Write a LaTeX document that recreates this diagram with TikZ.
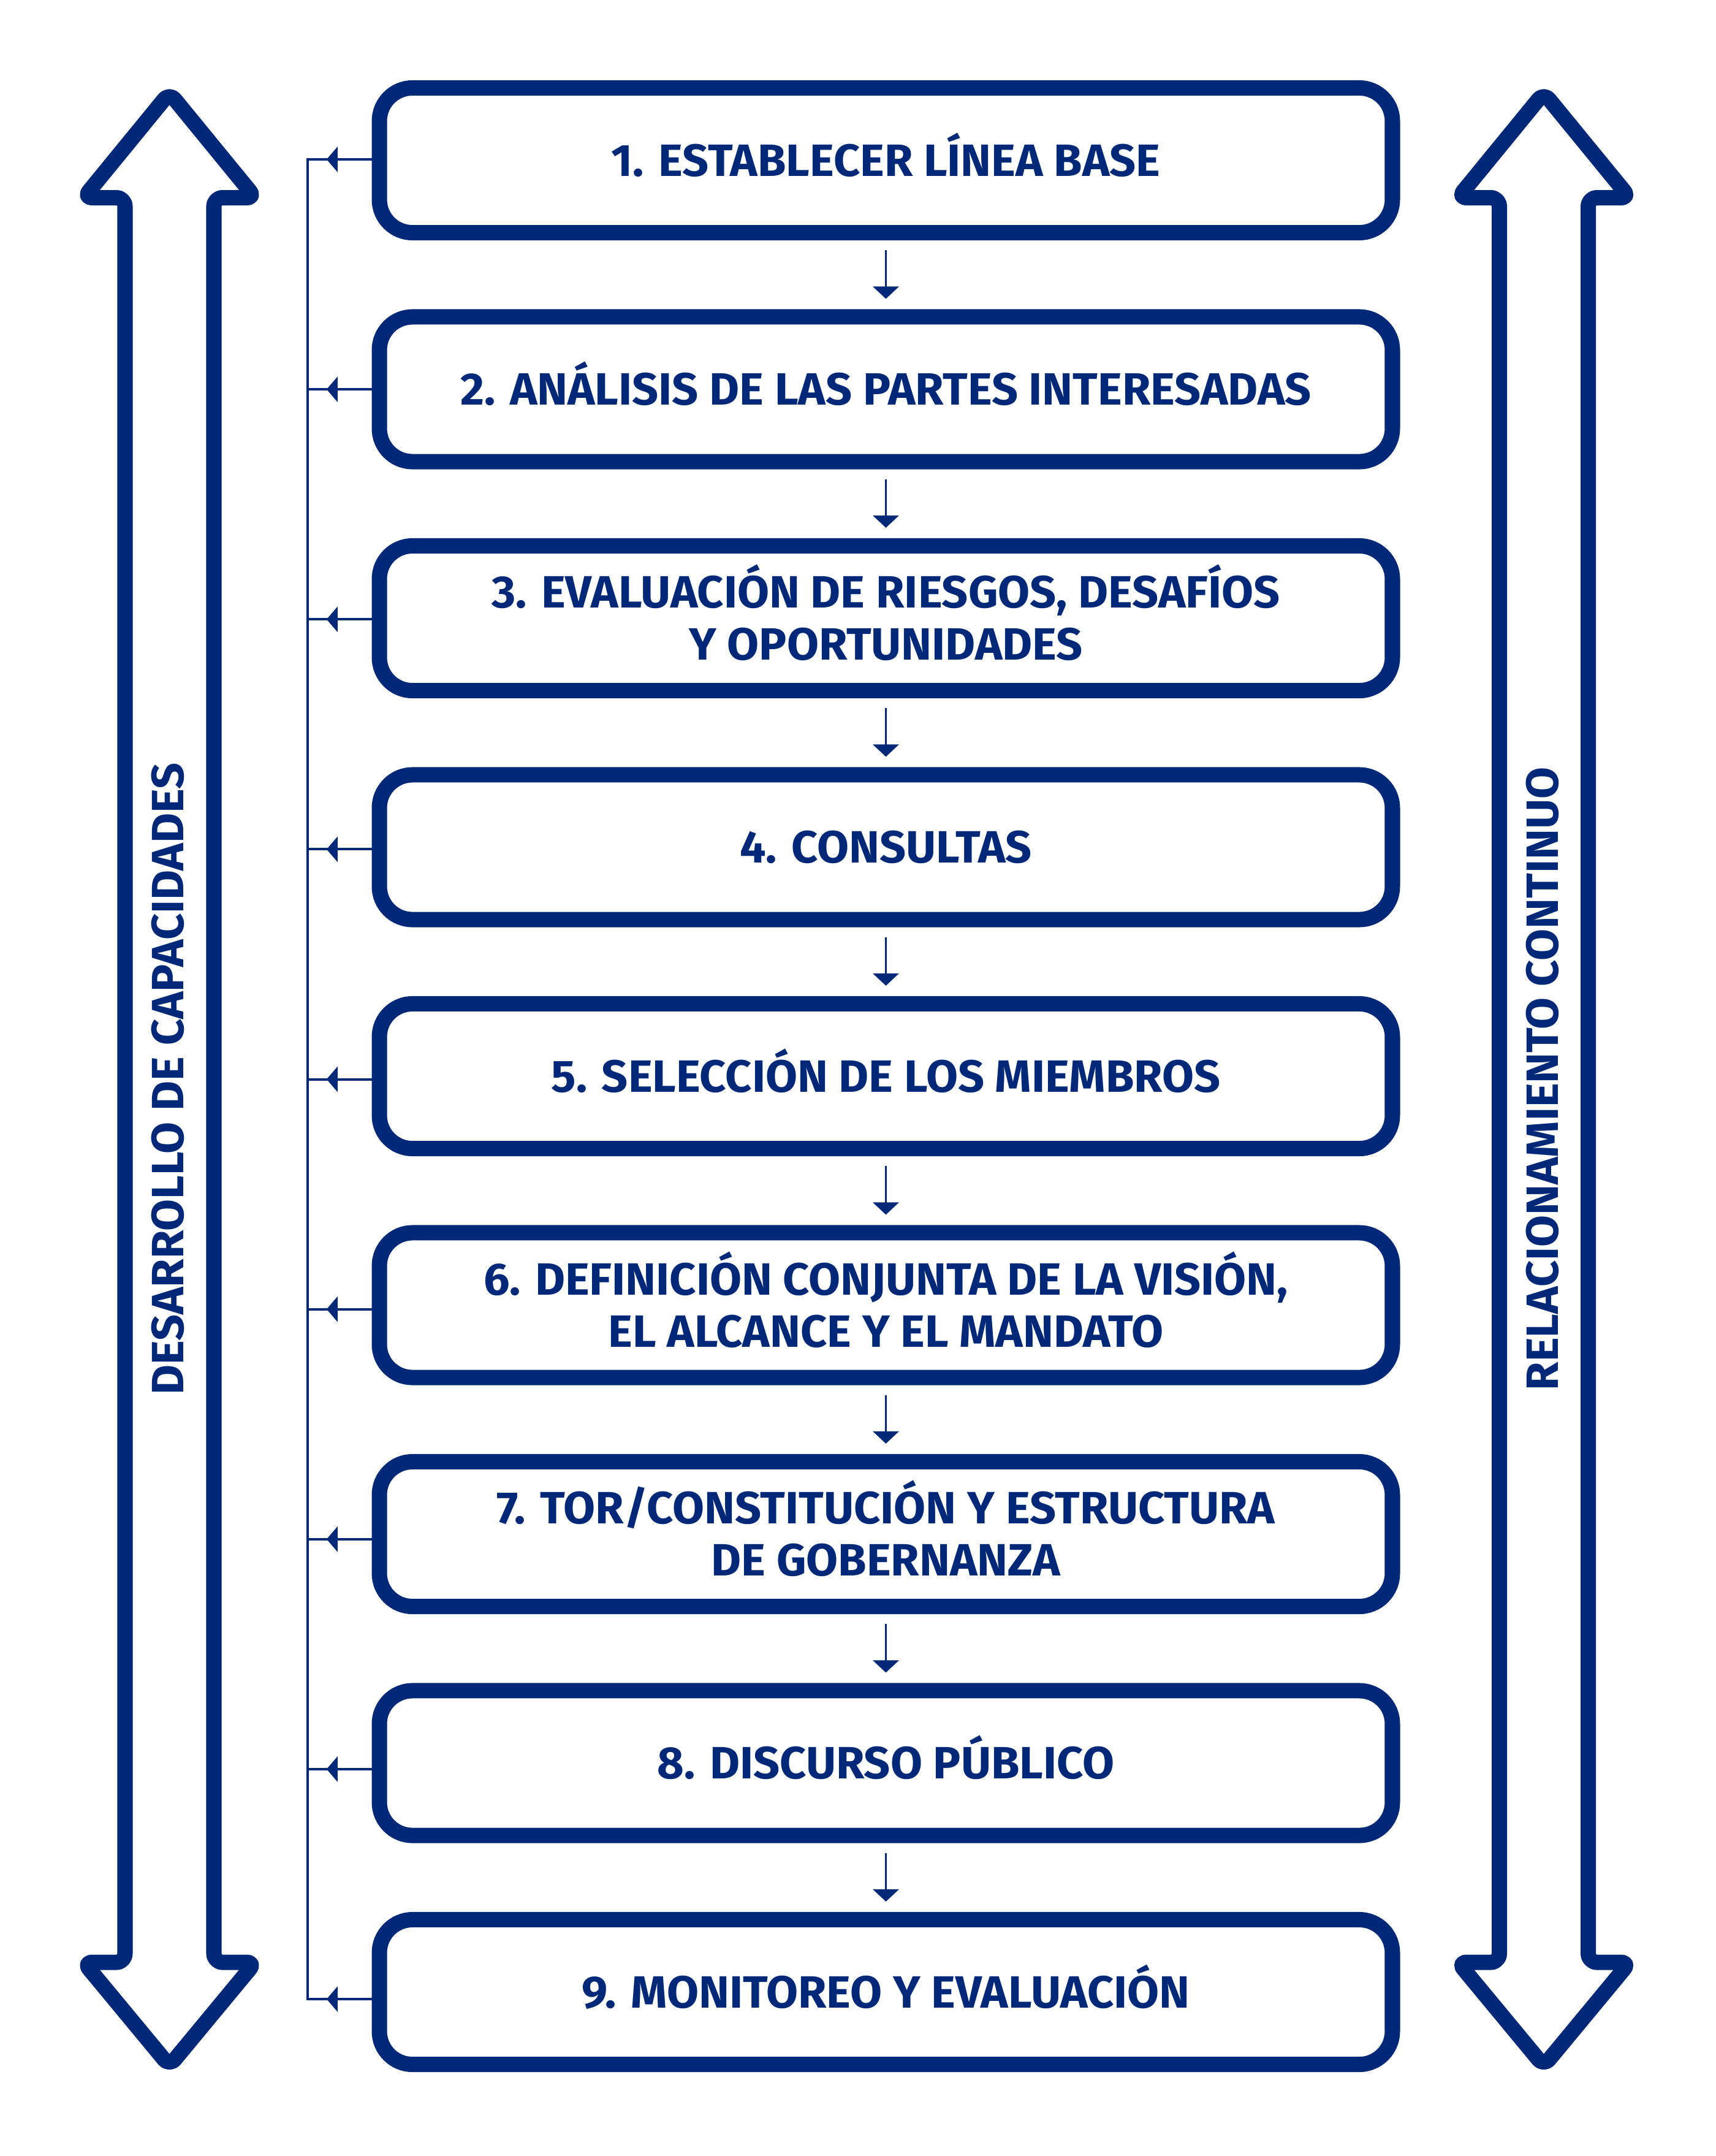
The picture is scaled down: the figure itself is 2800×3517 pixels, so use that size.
\documentclass[tikz,border=0pt]{standalone}
\usepackage{fontspec}
\usetikzlibrary{arrows.meta,decorations.markings,calc}
\newfontfamily\dinf{Fira Sans}[FakeStretch=1.02]
\definecolor{navy}{RGB}{0,40,120}
\begin{document}
\begin{tikzpicture}[x=0.01cm,y=-0.01cm,
 stepbox/.style={draw=navy, line width=0.25cm, rounded corners=0.54cm, minimum width=16.52cm, minimum height=2.36cm, inner sep=0pt, outer sep=0pt},
 lbl/.style={text=navy, font=\dinf\bfseries\fontsize{21pt}{25pt}\selectfont, text height=0.51cm, text depth=0pt, inner sep=0pt, outer sep=0pt},
 flow/.style={draw=navy, line width=0.035cm, -{Triangle[length=0.2cm,width=0.42cm]}, shorten <=0.285cm, shorten >=0.295cm},
 fb/.style={draw=navy, line width=0.04cm, postaction={decorate}, decoration={markings, mark=at position 0.736 with {\arrow[navy]{Triangle[length=0.18cm,width=0.41cm]}}}},
 bus/.style={draw=navy, line width=0.04cm, line cap=rect},
 bigarrow/.style={draw=navy, line width=0.25cm, line join=round, rounded corners=0.14cm}
]
\useasboundingbox (0,0) rectangle (2800,3517);

% big side arrows
\draw[bigarrow] (204,1760) -- (204,322.5) -- (136.5,322.5) -- (276.5,151.5) -- (416.5,322.5) -- (349,322.5) -- (349,3201) -- (416.5,3201) -- (276.5,3370) -- (136.5,3201) -- (204,3201) -- cycle;
\draw[bigarrow] (2446.5,1760) -- (2446.5,322.5) -- (2379,322.5) -- (2519,151.5) -- (2659,322.5) -- (2591.5,322.5) -- (2591.5,3201) -- (2659,3201) -- (2519,3370) -- (2379,3201) -- (2446.5,3201) -- cycle;
\node[lbl, rotate=90] (L) at (273.5,1760) {DESARROLLO DE CAPACIDADES};
\node[lbl, rotate=90] (R) at (2517,1760) {RELACIONAMIENTO CONTINUO};

% step boxes
\node[stepbox] (b1) at (1445.5,261.5) {};
\node[stepbox] (b2) at (1445.5,635) {};
\node[stepbox] (b3) at (1445.5,1008.5) {};
\node[stepbox] (b4) at (1445.5,1382) {};
\node[stepbox] (b5) at (1445.5,1755.5) {};
\node[stepbox] (b6) at (1445.5,2129) {};
\node[stepbox] (b7) at (1445.5,2502.5) {};
\node[stepbox] (b8) at (1445.5,2876) {};
\node[stepbox] (b9) at (1445.5,3249.5) {};

\node[lbl] (t1) at (b1) {1. ESTABLECER LÍNEA BASE};
\node[lbl] (t2) at (b2) {2. ANÁLISIS DE LAS PARTES INTERESADAS};
\node[lbl] (t3a) at ($(b3)+(0,-42.5)$) {3. EVALUACIÓN DE RIESGOS, DESAFÍOS};
\node[lbl] (t3b) at ($(b3)+(0,42.5)$) {Y OPORTUNIDADES};
\node[lbl] (t4) at (b4) {4. CONSULTAS};
\node[lbl] (t5) at (b5) {5. SELECCIÓN DE LOS MIEMBROS};
\node[lbl] (t6a) at ($(b6)+(0,-42.5)$) {6. DEFINICIÓN CONJUNTA DE LA VISIÓN,};
\node[lbl] (t6b) at ($(b6)+(0,42.5)$) {EL ALCANCE Y EL MANDATO};
\node[lbl] (t7a) at ($(b7)+(0,-42.5)$) {7. TOR/CONSTITUCIÓN Y ESTRUCTURA};
\node[lbl] (t7b) at ($(b7)+(0,42.5)$) {DE GOBERNANZA};
\node[lbl] (t8) at (b8) {8. DISCURSO PÚBLICO};
\node[lbl] (t9) at (b9) {9. MONITOREO Y EVALUACIÓN};

% downward flow arrows
\draw[flow] (b1) -- (b2);
\draw[flow] (b2) -- (b3);
\draw[flow] (b3) -- (b4);
\draw[flow] (b4) -- (b5);
\draw[flow] (b5) -- (b6);
\draw[flow] (b6) -- (b7);
\draw[flow] (b7) -- (b8);
\draw[flow] (b8) -- (b9);

% feedback bus on the left
\coordinate (f1) at (502,260);
\coordinate (f2) at (502,635.1);
\coordinate (f3) at (502,1010.25);
\coordinate (f4) at (502,1385.4);
\coordinate (f5) at (502,1760.5);
\coordinate (f6) at (502,2135.6);
\coordinate (f7) at (502,2510.75);
\coordinate (f8) at (502,2885.9);
\coordinate (f9) at (502,3261);
\draw[bus] (f1) -- (f9);
\draw[fb] (b1.west |- f1) -- (f1);
\draw[fb] (b2.west |- f2) -- (f2);
\draw[fb] (b3.west |- f3) -- (f3);
\draw[fb] (b4.west |- f4) -- (f4);
\draw[fb] (b5.west |- f5) -- (f5);
\draw[fb] (b6.west |- f6) -- (f6);
\draw[fb] (b7.west |- f7) -- (f7);
\draw[fb] (b8.west |- f8) -- (f8);
\draw[fb] (b9.west |- f9) -- (f9);
\end{tikzpicture}
\end{document}
